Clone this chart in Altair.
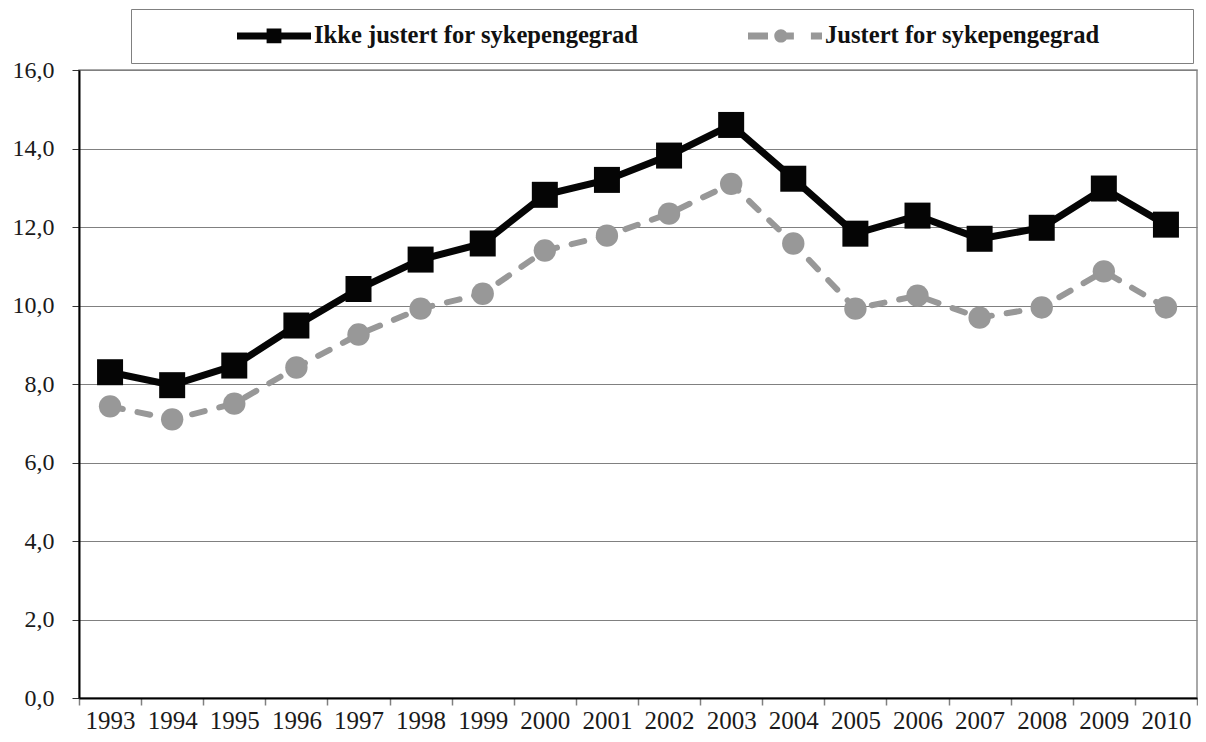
import altair as alt
import pandas as pd

years = [str(y) for y in range(1993, 2011)]
ikke_justert = [8.3, 7.97, 8.47, 9.49, 10.42, 11.17, 11.58, 12.82, 13.2, 13.82,
                14.6, 13.23, 11.83, 12.29, 11.7, 11.98, 12.98, 12.06]
justert = [7.43, 7.1, 7.5, 8.42, 9.26, 9.92, 10.3, 11.4, 11.78, 12.34,
           13.1, 11.58, 9.92, 10.25, 9.69, 9.95, 10.87, 9.95]
series_names = ["Ikke justert for sykepengegrad", "Justert for sykepengegrad"]
colors = ["#050505", "#989898"]
y_ticks = [0, 2, 4, 6, 8, 10, 12, 14, 16]

rows = []
for name, vals in zip(series_names, [ikke_justert, justert]):
    for yr, v in zip(years, vals):
        rows.append({"year": yr, "value": v, "series": name})
df = pd.DataFrame(rows)

# legend symbols: line with square / dashed line with circle
sym_black = ("M-1,-0.095 L1,-0.095 L1,0.095 L-1,0.095 Z "
             "M-0.2,-0.2 L0.2,-0.2 L0.2,0.2 L-0.2,0.2 Z")
sym_gray = ("M-1,-0.095 L-0.46,-0.095 L-0.46,0.095 L-1,0.095 Z "
            "M-0.29,0 A0.18,0.18 0 1,1 0.07,0 A0.18,0.18 0 1,1 -0.29,0 Z "
            "M-0.11,-0.095 L0.24,-0.095 L0.24,0.095 L-0.11,0.095 Z "
            "M0.7,-0.095 L1,-0.095 L1,0.095 L0.7,0.095 Z")

font = "Liberation Serif, Times New Roman, serif"
blank_pad = "\u00a0" + "\u2800" * 4  # invisible trailing room inside the legend frame

x_enc = alt.X(
    "year:N", sort=years,
    scale=alt.Scale(type="band", paddingInner=0, paddingOuter=0),
    axis=alt.Axis(title=None, labelAngle=0, tickBand="extent", tickSize=7,
                  tickColor="#808080", tickWidth=1.5, domainColor="#000000",
                  domainWidth=2, labelFont=font, labelFontSize=25,
                  labelColor="#1a1a1a", labelPadding=3, grid=False),
)
y_enc = alt.Y(
    "value:Q",
    scale=alt.Scale(domain=[0, 16], nice=False),
    axis=alt.Axis(title=None, values=y_ticks,
                  labelExpr="replace(format(datum.value, '.1f'), '.', ',')",
                  tickSize=7, tickColor="#333333", domainColor="#000000",
                  domainWidth=2, gridColor="#808080", gridWidth=1,
                  labelFont=font, labelFontSize=24, labelColor="#1a1a1a",
                  labelPadding=18),
)
color_scale = alt.Scale(domain=series_names, range=colors)
color_enc = alt.Color("series:N", scale=color_scale)

base = alt.Chart(df)

leg = alt.Legend(orient="none", legendX=52, legendY=-61, direction="horizontal",
                 title=None, strokeColor="#808080", padding=15,
                 symbolSize=74 * 74, symbolStrokeWidth=0, symbolOpacity=1,
                 symbolOffset=91, labelOffset=3, columnPadding=18,
                 labelFont=font, labelFontWeight="bold", labelFontSize=24.6,
                 labelColor="#111111", labelLimit=1000, clipHeight=23,
                 labelExpr=f"datum.label == '{series_names[1]}' ? datum.label + '{blank_pad}' : datum.label")

legend_layer = base.mark_point(filled=True, opacity=0).encode(
    x=x_enc, y=y_enc,
    color=alt.Color("series:N", scale=color_scale, legend=leg),
    shape=alt.Shape("series:N",
                    scale=alt.Scale(domain=series_names, range=[sym_black, sym_gray]),
                    legend=leg),
)

line_black = base.transform_filter(
    alt.datum.series == series_names[0]
).mark_line(strokeWidth=7).encode(x=x_enc, y=y_enc, color=color_enc)

line_gray = base.transform_filter(
    alt.datum.series == series_names[1]
).mark_line(strokeWidth=6, strokeDash=[13, 15], strokeCap="round").encode(
    x=x_enc, y=y_enc, color=color_enc)

squares = base.transform_filter(
    alt.datum.series == series_names[0]
).mark_square(size=676, opacity=1, strokeWidth=0).encode(
    x=x_enc, y=y_enc, color=color_enc)

circles = base.transform_filter(
    alt.datum.series == series_names[1]
).mark_circle(size=500, opacity=1, strokeWidth=0).encode(
    x=x_enc, y=y_enc, color=color_enc)

chart = alt.layer(legend_layer, line_gray, circles, line_black, squares).properties(
    width=1118, height=628,
    padding={"left": 4, "top": 0, "right": 0, "bottom": 0},
).configure_view(stroke="#8c8c8c", strokeWidth=1.5)

chart.save("out.html", embed_options={"renderer": "svg", "actions": False})
